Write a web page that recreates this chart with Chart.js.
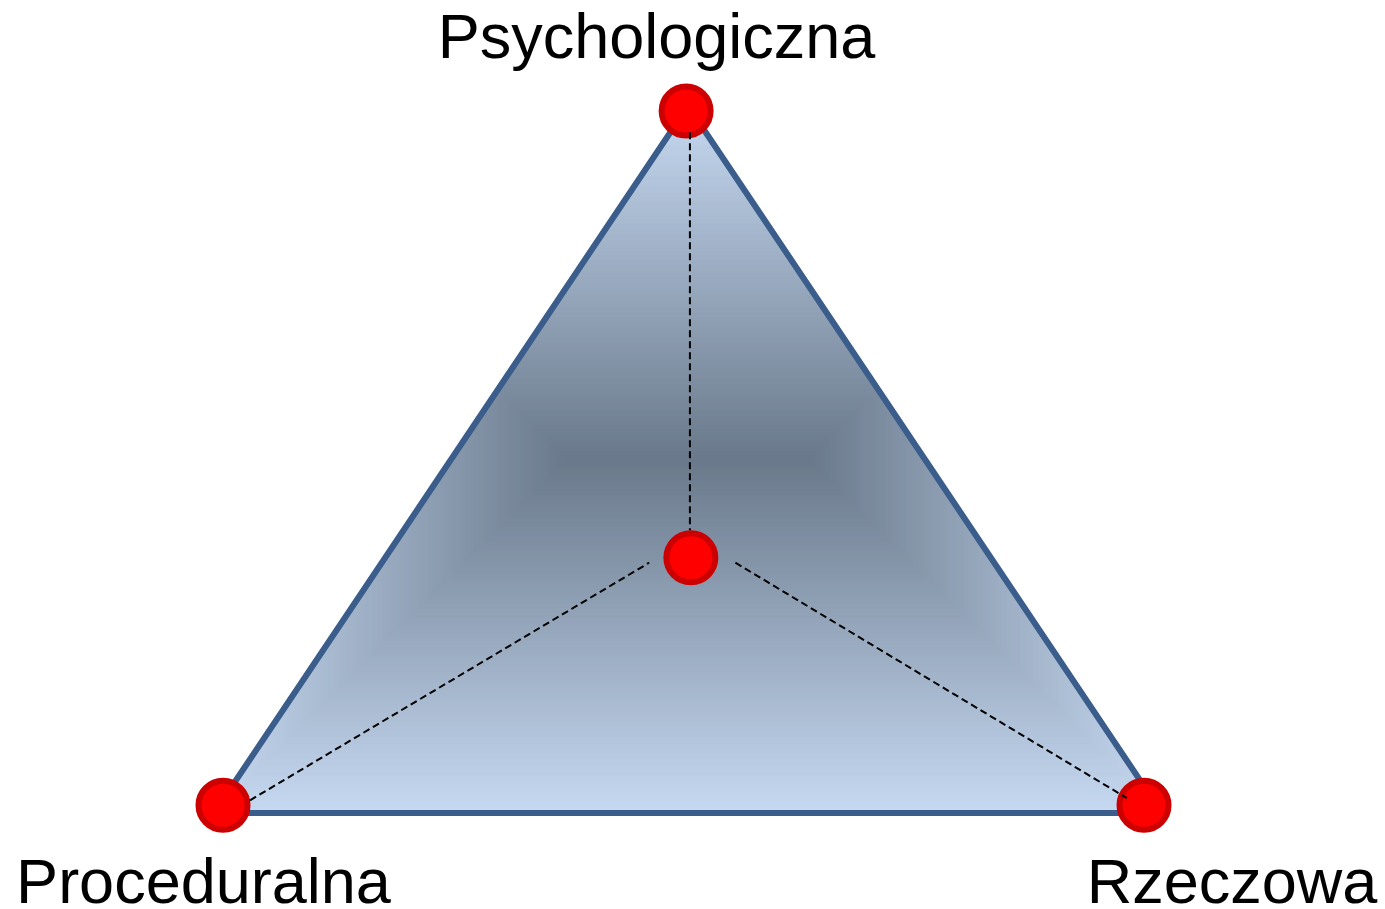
<!DOCTYPE html>
<html>
<head>
<meta charset="utf-8">
<script src="https://cdn.jsdelivr.net/npm/chart.js@4.4.1/dist/chart.umd.min.js"></script>
<style>
  html, body { margin: 0; padding: 0; background: #ffffff; }
  #wrap { width: 1385px; height: 909px; position: relative; }
</style>
</head>
<body>
<div id="wrap"><canvas id="c" width="1385" height="909"></canvas></div>
<script>
// ---- data ----
const categories = ['Proceduralna', 'Rzeczowa', 'Psychologiczna'];
// triangle outline corners (closed)
const outlineX = [0, 100, 50, 0];
const outlineY = [0, 0, 100, 0];
// markers: three vertices + centre
const markerX = [0.95, 98.1, 49.8, 50.3];
const markerY = [1.1, 1.1, 99.3, 36.1];
// dashed connectors (centre to each vertex)
const dashTopX = [50.2, 50.2];
const dashTopY = [96.3, 40.0];
const dashLeftX = [3.8, 45.9];
const dashLeftY = [1.8, 35.4];
const dashRightX = [55.0, 96.3];
const dashRightY = [35.4, 2.1];
// category label anchors
const labelX = [-1.11, 107.38, 46.68];
const labelY = [-12.73, -12.73, 106.8];

const pts = (xs, ys) => xs.map((x, i) => ({ x: x, y: ys[i] }));

// rectangular ("path") gradient fill, built from the scales
let patternCache = null;
function rectGradient(chart) {
  const xs = chart.scales.x, ys = chart.scales.y;
  if (!xs || !ys) return 'rgba(160,180,205,1)';
  const left = xs.getPixelForValue(Math.min(...outlineX));
  const right = xs.getPixelForValue(Math.max(...outlineX));
  const top = ys.getPixelForValue(Math.max(...outlineY));
  const bottom = ys.getPixelForValue(Math.min(...outlineY));
  const key = [left, right, top, bottom, chart.width, chart.height].join(',');
  if (patternCache && patternCache.key === key) return patternCache.pat;
  const off = document.createElement('canvas');
  off.width = chart.width; off.height = chart.height;
  const g = off.getContext('2d');
  const w = right - left, h = bottom - top;
  const maxD = Math.min(w, h) / 2;
  const c0 = [198, 217, 241], c1 = [106, 121, 139];
  const n = Math.ceil(maxD);
  for (let i = 0; i <= n; i++) {
    const d = i * maxD / n;
    const t = d / maxD;
    const c = c0.map((v, k) => Math.round(v + (c1[k] - v) * t));
    g.fillStyle = 'rgb(' + c.join(',') + ')';
    g.fillRect(left + d, top + d, Math.max(w - 2 * d, 0), Math.max(h - 2 * d, 0));
  }
  const pat = chart.ctx.createPattern(off, 'no-repeat');
  patternCache = { key: key, pat: pat };
  return pat;
}

const labelPlugin = {
  id: 'vertexLabels',
  afterDatasetsDraw(chart) {
    const ctx = chart.ctx;
    ctx.save();
    ctx.font = '63px "Liberation Sans", Arial, sans-serif';
    ctx.fillStyle = '#000000';
    ctx.textAlign = 'center';
    ctx.textBaseline = 'alphabetic';
    categories.forEach((name, i) => {
      ctx.fillText(name, chart.scales.x.getPixelForValue(labelX[i]), chart.scales.y.getPixelForValue(labelY[i]));
    });
    ctx.restore();
  }
};

const dashStyle = {
  type: 'line', showLine: true, borderColor: '#000000', borderWidth: 2,
  borderDash: [7, 4], pointRadius: 0, fill: false, order: 1, tension: 0
};

new Chart(document.getElementById('c'), {
  type: 'scatter',
  data: {
    datasets: [
      {
        type: 'line', label: 'outline', data: pts(outlineX, outlineY), showLine: true,
        borderColor: '#3a5d8b', borderWidth: 6, borderJoinStyle: 'miter',
        backgroundColor: (ctx) => rectGradient(ctx.chart),
        fill: 'shape', pointRadius: 0, tension: 0, order: 3
      },
      {
        label: 'points', data: pts(markerX, markerY),
        pointStyle: 'circle', pointRadius: 24.5, pointBorderWidth: 6,
        pointBackgroundColor: '#ff0000', pointBorderColor: '#cc0000',
        backgroundColor: '#ff0000', borderColor: '#cc0000', order: 2
      },
      Object.assign({ label: 'd1', data: pts(dashTopX, dashTopY) }, dashStyle),
      Object.assign({ label: 'd2', data: pts(dashLeftX, dashLeftY) }, dashStyle),
      Object.assign({ label: 'd3', data: pts(dashRightX, dashRightY) }, dashStyle)
    ]
  },
  options: {
    responsive: false,
    animation: false,
    devicePixelRatio: 1,
    layout: { padding: 0, autoPadding: false },
    plugins: { legend: { display: false }, tooltip: { enabled: false } },
    scales: {
      x: { type: 'linear', display: false, min: -22.574, max: 123.52 },
      y: { type: 'linear', display: false, min: -13.578, max: 114.993 }
    }
  },
  plugins: [labelPlugin]
});
</script>
</body>
</html>
